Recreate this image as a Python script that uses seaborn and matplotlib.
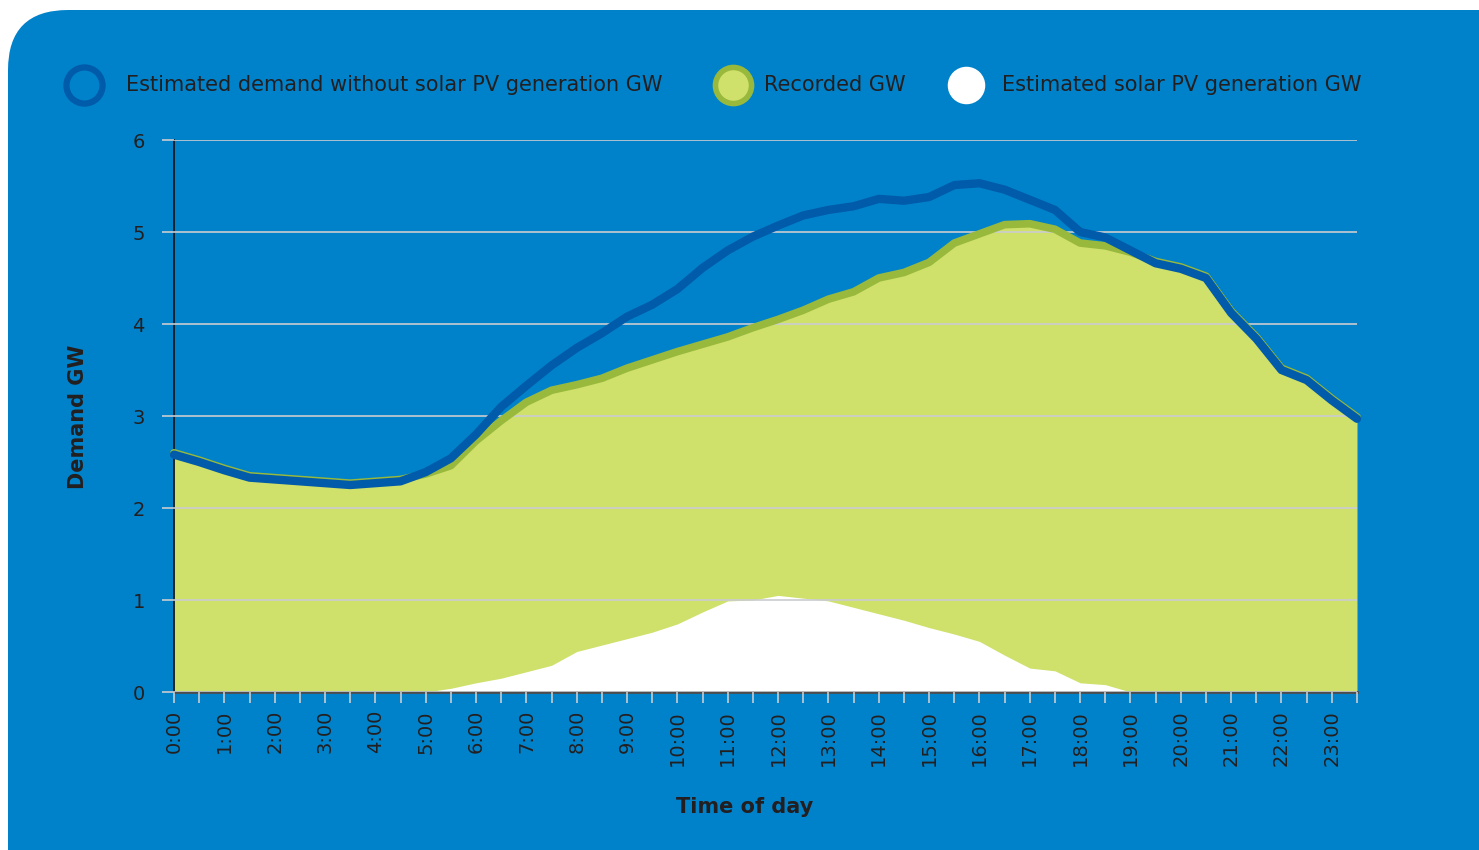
import numpy as np
import matplotlib.pyplot as plt
import seaborn as sns
from matplotlib.patches import FancyBboxPatch
from matplotlib.lines import Line2D

# Half-hourly values (0:00 .. 23:30)
time_labels = [f"{h}:{m:02d}" for h in range(24) for m in (0, 30)]

demand_gw = [2.58, 2.50, 2.41, 2.33, 2.31, 2.29, 2.27, 2.25, 2.27, 2.29,
             2.39, 2.54, 2.80, 3.10, 3.33, 3.55, 3.74, 3.90, 4.08, 4.21,
             4.38, 4.61, 4.80, 4.95, 5.07, 5.18, 5.24, 5.28, 5.36, 5.34,
             5.38, 5.51, 5.53, 5.46, 5.35, 5.24, 5.00, 4.94, 4.80, 4.66,
             4.60, 4.50, 4.12, 3.84, 3.50, 3.39, 3.17, 2.97]

recorded_gw = [2.60, 2.52, 2.43, 2.35, 2.33, 2.31, 2.29, 2.27, 2.29, 2.31,
               2.37, 2.46, 2.73, 2.95, 3.15, 3.28, 3.34, 3.41, 3.52, 3.61,
               3.70, 3.78, 3.86, 3.96, 4.05, 4.15, 4.27, 4.35, 4.50, 4.56,
               4.67, 4.88, 4.98, 5.08, 5.09, 5.03, 4.88, 4.85, 4.78, 4.68,
               4.62, 4.52, 4.14, 3.86, 3.52, 3.41, 3.19, 2.99]

solar_gw = [0, 0, 0, 0, 0, 0, 0, 0, 0, 0,
            0.0, 0.04, 0.10, 0.15, 0.22, 0.29, 0.44, 0.51, 0.58, 0.65,
            0.74, 0.87, 0.99, 1.00, 1.05, 1.02, 0.99, 0.92, 0.85, 0.78,
            0.70, 0.63, 0.55, 0.40, 0.26, 0.23, 0.10, 0.08, 0, 0,
            0, 0, 0, 0, 0, 0, 0, 0]

legend_labels = ["Estimated demand without solar PV generation GW",
                 "Recorded GW",
                 "Estimated solar PV generation GW"]

BG_BLUE = "#0082ca"
DARK_BLUE = "#005baa"
LIGHT_GREEN = "#cfe06b"
GREEN = "#98b93c"
GRID = "#c9ccd0"
TEXT = "#231f20"

sns.set_style("white")
plt.rcParams['font.family'] = ['DejaVu Sans']

W, H = 1479, 850
fig = plt.figure(figsize=(W / 100, H / 100), dpi=100)
fig.patch.set_facecolor("white")

# blue panel with rounded top-left corner
panel = FancyBboxPatch((0.08, -1), 16, 9.4, boxstyle="round,pad=0,rounding_size=0.6",
                       transform=fig.dpi_scale_trans, facecolor=BG_BLUE,
                       edgecolor="none", zorder=-10)
fig.patches.append(panel)

ax = fig.add_axes([174 / W, 158 / H, (1357 - 174) / W, 552 / H])
ax.set_zorder(5)
ax.set_facecolor("none")

x = np.arange(len(time_labels))
ax.fill_between(x, recorded_gw, color=LIGHT_GREEN, lw=0, zorder=1)
ax.fill_between(x, solar_gw, color="white", lw=0, zorder=1.2)

ax.set_axisbelow(False)
ax.grid(axis="y", color=GRID, lw=1.2)
ax.grid(axis="x", visible=False)

sns.lineplot(x=x, y=recorded_gw, ax=ax, color=GREEN, lw=5.5, zorder=4,
             solid_capstyle="round", clip_on=False)
sns.lineplot(x=x, y=demand_gw, ax=ax, color=DARK_BLUE, lw=6, zorder=5,
             solid_capstyle="round", clip_on=False)

ax.set_xlim(0, len(x) - 1)
ax.set_ylim(0, 6)
ax.set_xticks(x)
ax.set_xticklabels([t if t.endswith(":00") else "" for t in time_labels], rotation=90)
ax.set_yticks(range(7))
ax.tick_params(axis="x", bottom=True, length=8, width=1.2, color=GRID, pad=5,
               labelsize=14, labelcolor=TEXT)
ax.tick_params(axis="y", left=True, length=9, width=1.2, color=GRID, pad=12,
               labelsize=14, labelcolor=TEXT)
ax.set_xlabel("")
ax.set_ylabel("")

for side in ["top", "right"]:
    ax.spines[side].set_visible(False)
ax.spines["left"].set_color("#111111")
ax.spines["left"].set_linewidth(1.2)
ax.spines["bottom"].set_color("#4d4d4d")
ax.spines["bottom"].set_linewidth(2)

fig.text(745 / W, 1 - 807 / H, "Time of day", ha="center", va="center",
         fontsize=15, fontweight="bold", color=TEXT)
fig.text(78 / W, 1 - 417 / H, "Demand GW", ha="center", va="center", rotation=90,
         fontsize=15, fontweight="bold", color=TEXT)

# legend row
ly = 1 - 85 / H
markers = [(84, "none", DARK_BLUE, 4.5), (733, LIGHT_GREEN, GREEN, 4), (966, "white", "white", 1)]
for (mx, fc, ec, mew) in markers:
    fig.add_artist(Line2D([mx / W], [ly], marker="o", markersize=26, markerfacecolor=fc,
                          markeredgecolor=ec, markeredgewidth=mew, transform=fig.transFigure))
for tx, label in zip([126, 764, 1002], legend_labels):
    fig.text(tx / W, ly, label, ha="left", va="center", fontsize=15, color=TEXT)

fig.savefig("out.png", dpi=100, facecolor=fig.get_facecolor())
